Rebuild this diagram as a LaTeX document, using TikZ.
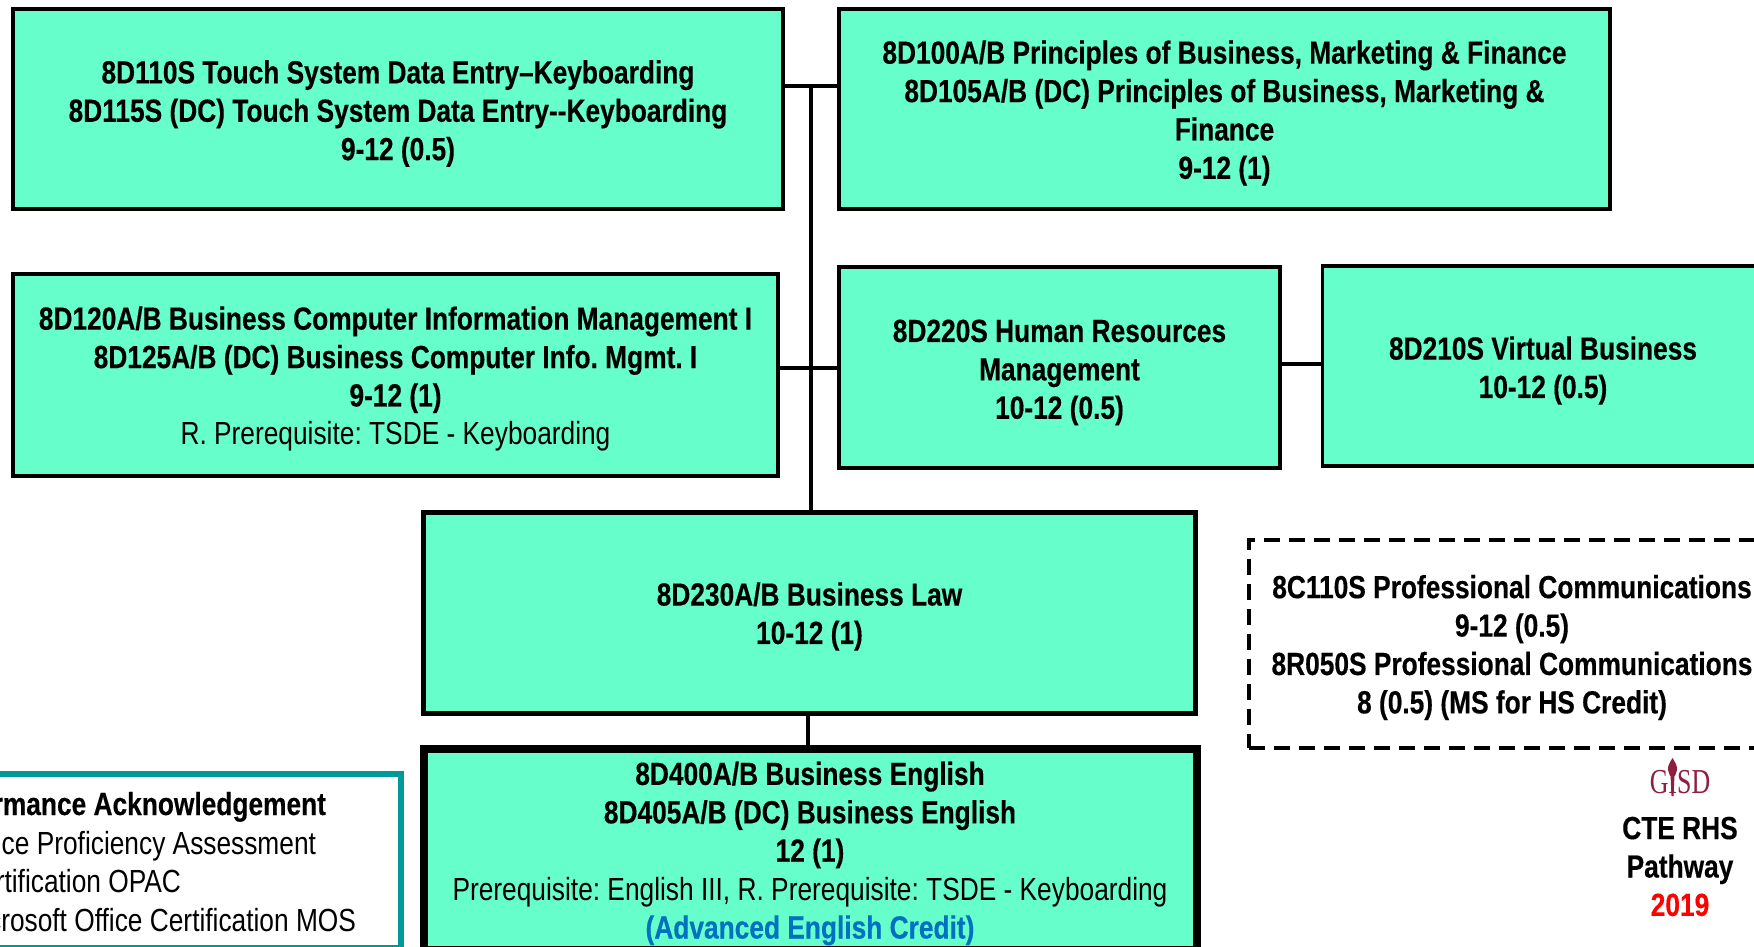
\documentclass[tikz,border=0pt]{standalone}
\usepackage{fontspec}
\setmainfont[FakeStretch=0.822,BoldFeatures={FakeBold=0.35}]{Liberation Sans}
\newfontfamily\logofont[FakeStretch=0.74]{Liberation Serif}
\definecolor{mint}{HTML}{66FFCC}
\definecolor{tealrim}{HTML}{009999}
\definecolor{adv}{HTML}{0070C0}
\definecolor{logored}{HTML}{8E1F3F}
\tikzset{
  x=1pt,y=-1pt,
  txtfont/.style={font=\fontsize{32}{38.4}\selectfont\frenchspacing\bfseries},
  course/.style={draw=black,fill=mint,line width=3.5pt,inner sep=0pt,outer sep=0pt,align=center,txtfont},
  plain/.style={inner sep=0pt,outer sep=0pt,align=center,txtfont},
  ack/.style={inner sep=0pt,outer sep=0pt,anchor=base east,font=\fontsize{32}{38.4}\selectfont\frenchspacing},
  link/.style={draw=black,line width=3.2pt},
}
\begin{document}
\begin{tikzpicture}
\path[use as bounding box,clip] (0,0) rectangle (1754,947);
\fill[white] (0,0) rectangle (1754,947);
% connectors first
\coordinate (j1) at (811,86);
\coordinate (j1l) at (783,86);
\coordinate (j1r) at (839,86);
\coordinate (j2l) at (778,368);
\coordinate (j2r) at (839,368);
\coordinate (j3) at (811,512);
\draw[link] (j1l) -- (j1r);
\draw[link] (j2l) -- (j2r);
\draw[link] (j1) -- (j3);

\node[course,minimum width=770pt,minimum height=200pt] (b1) at (398,109) {};
\node[plain] (t1) at (398,113.5)
 {8D110S Touch System Data Entry–Keyboarding\\8D115S (DC) Touch System Data Entry{-}{-}Keyboarding\\9-12 (0.5)};
\node[course,minimum width=771pt,minimum height=200pt] (b2) at (1224.5,109) {};
\node[plain] (t2) at (1224.5,113)
 {8D100A/B Principles of Business, Marketing \& Finance\\8D105A/B (DC) Principles of Business, Marketing \&\\Finance\\9-12 (1)};
\node[course,minimum width=765pt,minimum height=202pt] (b3) at (395.5,375) {};
\node[plain] (t3) at (395.5,379)
 {8D120A/B Business Computer Information Management I\\8D125A/B (DC) Business Computer Info. Mgmt. I\\9-12 (1)\\\mdseries R. Prerequisite: TSDE - Keyboarding};
\node[course,minimum width=441pt,minimum height=201pt] (b4) at (1059.5,367.5) {};
\node[plain] (t4) at (1059.5,372.5)
 {8D220S Human Resources\\Management\\10-12 (0.5)};
\node[course,minimum width=443pt,minimum height=200pt] (b5) at (1544,366) {};
\node[plain] (t5) at (1543,370.5)
 {8D210S Virtual Business\\10-12 (0.5)};
\node[course,line width=5pt,minimum width=772pt,minimum height=201pt] (b6) at (809,612.5) {};
\node[plain] (t6) at (809.5,616.5)
 {8D230A/B Business Law\\10-12 (1)};
\node[course,line width=8pt,minimum width=773pt,minimum height=201pt] (b7) at (810,849.5) {};
\node[plain] (t7) at (810,853.5)
 {8D400A/B Business English\\8D405A/B (DC) Business English\\12 (1)\\\mdseries Prerequisite: English III, R. Prerequisite: TSDE - Keyboarding\\\color{adv}\bfseries(Advanced English Credit)};
\draw[link] (b6.south -| 808,0) -- (b7.north -| 808,0);
\draw[link] (b4.east |- 0,364) -- (b5.west |- 0,364);

% dashed box
\node[draw=black,line width=3.5pt,dash pattern=on 16pt off 9pt,minimum width=524pt,minimum height=208pt,inner sep=0pt,outer sep=0pt] (b8) at (1511,644) {};
\node[plain] (t8) at (1512,647.5)
 {8C110S Professional Communications\\9-12 (0.5)\\8R050S Professional Communications\\8 (0.5) (MS for HS Credit)};

% performance box
\node[draw=tealrim,fill=white,line width=6pt,minimum width=500pt,minimum height=174pt,inner sep=0pt,outer sep=0pt] (b9) at (151,861) {};
\node[ack,font=\fontsize{32}{38.4}\selectfont\frenchspacing\bfseries] (a1) at (326,815) {Performance Acknowledgement};
\node[ack] (a2) at (316,854) {Office Proficiency Assessment};
\node[ack] (a3) at (181,892) {Certification OPAC};
\node[ack] (a4) at (356,931) {Microsoft Office Certification MOS};

% logo
\node[inner sep=0pt,anchor=base,text=logored,font=\fontsize{35}{35}\logofont] (logo) at (1680,793) {GISD};
\fill[logored] (1670.5,775) -- (1674.5,775) -- (1673.5,796) -- (1671.5,796) -- cycle;
\fill[logored] (1672.5,758) .. controls (1675,762) and (1677.5,766) .. (1677,770) -- (1675,776) -- (1670,776) -- (1668,770) .. controls (1667.5,766) and (1670,762) .. (1672.5,758) -- cycle;

\node[plain] (cap) at (1680,866.5) {CTE RHS\\Pathway\\\color{red}2019};
\end{tikzpicture}
\end{document}
